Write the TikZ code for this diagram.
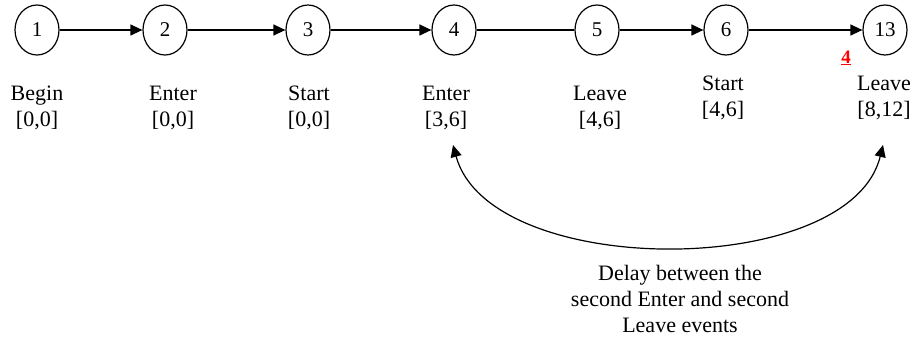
\documentclass[tikz,border=0pt]{standalone}
\usepackage{fontspec}
\setmainfont{Liberation Serif}
\usetikzlibrary{shapes.geometric,arrows.meta}
\tikzset{
  ev/.style={draw, ellipse, line width=1.2pt, minimum width=44pt, minimum height=50pt, inner sep=0pt, font=\fontsize{21}{24}\selectfont},
  lab/.style={align=center, inner sep=0pt, font=\fontsize{22}{26}\selectfont},
  conn/.style={line width=1.2pt},
  tip/.style={-{Triangle[length=12pt,width=11pt]}},
}
\begin{document}
\begin{tikzpicture}[x=1pt,y=-1pt]
\useasboundingbox (0,0) rectangle (915,339);
\node[ev] (n1) at (37,30) {1};
\node[ev] (n2) at (165,30) {2};
\node[ev] (n3) at (308,30) {3};
\node[ev] (n4) at (454,30) {4};
\node[ev] (n5) at (597,30) {5};
\node[ev] (n6) at (726,30) {6};
\node[ev] (n13) at (885,30) {13};
\draw[conn,tip] (n1) -- (n2);
\draw[conn,tip] (n2) -- (n3);
\draw[conn,tip] (n3) -- (n4);
\draw[conn] (n4) -- (n5);
\draw[conn,tip] (n5) -- (n6);
\draw[conn,tip] (n6) -- (n13);
\node[lab] (l1) at (37,108) {Begin\\{}[0,0]};
\node[lab] (l2) at (173,108) {Enter\\{}[0,0]};
\node[lab] (l3) at (309,108) {Start\\{}[0,0]};
\node[lab] (l4) at (446,108) {Enter\\{}[3,6]};
\node[lab] (l5) at (600,108) {Leave\\{}[4,6]};
\node[lab] (l6) at (723,98) {Start\\{}[4,6]};
\node[lab] (l13) at (884,98) {Leave\\{}[8,12]};
\node[inner sep=0pt, text=red, font=\fontsize{19}{20}\selectfont\bfseries] (r4) at (846,58) {\underline{4}};
\coordinate (c4) at (453,145);
\coordinate (c13) at (883,145);
\draw[conn,{Triangle[length=12pt,width=11pt]}-{Triangle[length=12pt,width=11pt]}] (c4) .. controls (490,280) and (850,280) .. (c13);
\node[lab] (d) at (680,299) {Delay between the\\second Enter and second\\Leave events};
\end{tikzpicture}
\end{document}
